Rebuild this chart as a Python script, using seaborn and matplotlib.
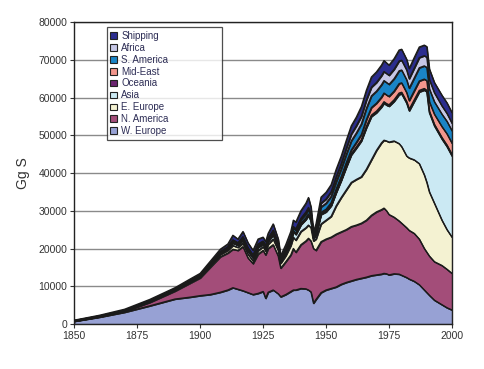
import numpy as np
import pandas as pd
import matplotlib
matplotlib.use("Agg")
import matplotlib.pyplot as plt
import seaborn as sns

years = [1850, 1860, 1870, 1880, 1890, 1896, 1900, 1904, 1908, 1911, 1913, 1915, 1917, 1919,
         1921, 1923, 1925, 1926, 1927, 1929, 1931, 1932, 1934, 1936, 1937, 1938, 1940, 1942,
         1943, 1944, 1945, 1946, 1948, 1950, 1952, 1954, 1956, 1958, 1960, 1962, 1964, 1966,
         1968, 1970, 1972, 1973, 1974, 1975, 1977, 1979, 1980, 1982, 1983, 1985, 1987, 1989,
         1990, 1991, 1993, 1996, 1998, 2000]

# emissions per region, Gg S (stack order bottom -> top)
w_europe = [700, 1800, 3100, 4800, 6600, 7100, 7500, 7800, 8400, 9000, 9600, 9200, 8800, 8300,
            7800, 8100, 8600, 6800, 8400, 9000, 8000, 7200, 7800, 8600, 9000, 9000, 9400, 9300,
            9000, 8500, 5500, 6500, 8300, 9000, 9400, 9800, 10500, 11000, 11400, 11800, 12100, 12400,
            12800, 13000, 13200, 13400, 13300, 13000, 13300, 13200, 12900, 12300, 11900, 11300, 10400, 9000,
            8300, 7600, 6300, 5100, 4300, 3700]
n_america = [50, 100, 200, 900, 2100, 3700, 4700, 7200, 9400, 9800, 10200, 10300, 11700, 9200,
             8200, 10400, 10900, 11500, 11600, 12000, 10000, 7600, 8700, 9700, 11000, 10000, 11600, 12700,
             13700, 13500, 14500, 13000, 13500, 13500, 13600, 14000, 13900, 14000, 14400, 14400, 14600, 15100,
             16000, 16700, 17100, 17300, 16700, 16000, 15000, 14100, 13800, 13200, 12900, 12700, 12100, 11000,
             10700, 10400, 10200, 10400, 10200, 9700]
e_europe = [20, 50, 100, 150, 200, 300, 300, 500, 600, 700, 1000, 800, 900, 1000,
            700, 900, 1000, 1000, 1100, 1500, 1500, 1300, 1600, 2500, 3000, 3200, 3500, 3500,
            3500, 3500, 2000, 3000, 4700, 5000, 5500, 7500, 9100, 10500, 11700, 12100, 12300, 13500,
            14700, 16300, 17700, 18000, 18500, 19200, 20200, 20500, 20300, 19000, 19200, 19500, 20000, 19500,
            18500, 17000, 15500, 12000, 10500, 9600]
asia = [60, 90, 120, 150, 160, 180, 200, 250, 330, 400, 650, 550, 800, 800,
        750, 850, 700, 700, 800, 1100, 850, 550, 850, 1100, 1400, 1500, 1800, 2200,
        2500, 1800, 600, 1200, 2500, 2200, 2800, 3500, 4500, 6000, 7300, 8300, 9500, 11000,
        11500, 10000, 9500, 9800, 9500, 9500, 10500, 13000, 14000, 14000, 12500, 15500, 19000, 22500,
        24000, 21000, 20500, 21500, 22000, 21500]
oceania = [10, 10, 20, 20, 20, 30, 30, 40, 50, 60, 80, 70, 90, 90,
           80, 90, 80, 80, 90, 120, 100, 70, 90, 110, 130, 140, 150, 170,
           180, 150, 80, 120, 200, 200, 200, 250, 250, 300, 300, 300, 300, 350,
           350, 400, 400, 400, 400, 400, 400, 400, 400, 400, 400, 400, 400, 400,
           400, 400, 400, 400, 400, 400]
mid_east = [10, 10, 10, 20, 20, 20, 30, 30, 40, 50, 70, 60, 80, 80,
            80, 100, 80, 80, 90, 150, 120, 80, 120, 150, 180, 200, 220, 250,
            280, 250, 150, 250, 400, 500, 600, 700, 800, 900, 1000, 1200, 1400, 1800,
            2000, 2100, 2200, 2300, 2300, 2200, 2300, 2500, 2500, 2400, 2300, 2400, 2500, 2500,
            2600, 2500, 2700, 2900, 3000, 3000]
s_america = [30, 50, 70, 100, 110, 130, 150, 180, 230, 280, 450, 370, 500, 480,
             450, 500, 400, 400, 470, 650, 480, 320, 460, 600, 700, 750, 850, 1000,
             1100, 900, 500, 800, 1400, 1600, 1700, 1900, 2000, 2200, 2400, 2500, 2800, 3000,
             3100, 3200, 3300, 3300, 3300, 3200, 3300, 3400, 3400, 3400, 3300, 3400, 3500, 3500,
             3500, 3400, 3300, 3300, 3300, 3300]
africa = [20, 30, 40, 60, 70, 80, 90, 100, 130, 160, 250, 200, 280, 270,
          250, 280, 220, 220, 260, 350, 270, 180, 260, 330, 400, 420, 480, 560,
          620, 500, 270, 450, 1000, 1100, 1200, 1300, 1400, 1600, 1800, 1900, 2000, 2200,
          2300, 2300, 2400, 2400, 2400, 2400, 2500, 2600, 2600, 2600, 2500, 2600, 2700, 2700,
          2700, 2500, 2400, 2200, 2100, 2000]
shipping = [100, 160, 240, 300, 320, 360, 400, 500, 620, 750, 1200, 950, 1350, 1280,
            1190, 1280, 1020, 1020, 1190, 1630, 1180, 800, 1120, 1410, 1690, 1790, 2000, 2320,
            2620, 1900, 900, 1180, 1600, 1800, 1900, 2000, 2000, 2100, 2200, 2300, 2600, 2600,
            2700, 2800, 2800, 2900, 2800, 2700, 2800, 2900, 2900, 2800, 2700, 2800, 2800, 2800,
            2800, 2800, 2700, 2800, 2800, 2800]

labels = ["W. Europe", "N. America", "E. Europe", "Asia", "Oceania",
          "Mid-East", "S. America", "Africa", "Shipping"]
colors = ["#97a1d4", "#a34d79", "#f4f2d2", "#cbe9f3", "#6b2470",
          "#f3968c", "#1a84c6", "#c6c7e6", "#2b2d8e"]

df = pd.DataFrame({"year": years, "W. Europe": w_europe, "N. America": n_america,
                   "E. Europe": e_europe, "Asia": asia, "Oceania": oceania,
                   "Mid-East": mid_east, "S. America": s_america, "Africa": africa,
                   "Shipping": shipping})

sns.set_theme(style="white")
plt.rcParams['font.family'] = ['Liberation Sans', 'DejaVu Sans']

fig = plt.figure(figsize=(4.85, 3.69), dpi=100)
ax = fig.add_axes([0.153, 0.122, 0.779, 0.818])

for v in range(10000, 80001, 10000):
    ax.axhline(v, color="#8a8a8a", lw=1.0, zorder=0)

polys = ax.stackplot(df["year"], [df[c] for c in labels], colors=colors, labels=labels,
                     edgecolor="none", linewidth=0, zorder=2)

# outline on top of every layer
cum = df[labels].cumsum(axis=1)
for c in labels:
    sns.lineplot(x=df["year"], y=cum[c], ax=ax, color="#1a1a1a", lw=1.0, zorder=3, legend=False)

ax.set_xlim(1850, 2000)
ax.set_ylim(0, 80000)
ax.set_xticks(range(1850, 2001, 25))
ax.set_yticks(range(0, 80001, 10000))
ax.set_xlabel("")
ax.set_ylabel("Gg S", fontsize=10, color="#333333", labelpad=6)
ax.tick_params(axis="both", labelsize=7.5, colors="#333333", length=3, width=0.8,
               direction="out", bottom=True, left=True, pad=2)
for s in ax.spines.values():
    s.set_color("#222222")
    s.set_linewidth(1.0)

h, l = ax.get_legend_handles_labels()
for p in h:
    p.set_edgecolor("#222222")
    p.set_linewidth(0.8)
leg = ax.legend(h[::-1], l[::-1], loc="upper left", bbox_to_anchor=(0.087, 0.983, 0.304, 0.0),
                mode="expand", fontsize=7, frameon=True, fancybox=False, edgecolor="#222222",
                handlelength=0.7, handleheight=0.7, handletextpad=0.4, labelspacing=0.2,
                borderpad=0.35, borderaxespad=0)
leg.get_frame().set_linewidth(0.9)
for t in leg.get_texts():
    t.set_color("#2d2d55")

fig.savefig("out.png", dpi=100)
